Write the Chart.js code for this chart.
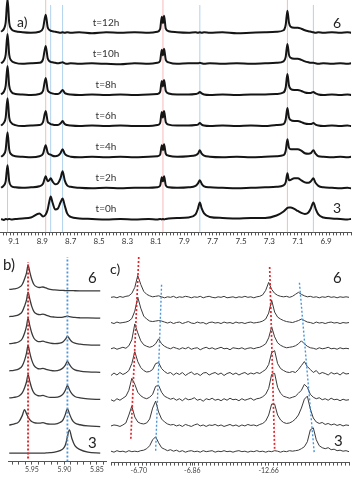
<!DOCTYPE html>
<html>
<head>
<meta charset="utf-8">
<script src="https://cdn.jsdelivr.net/npm/chart.js@4.4.1/dist/chart.umd.min.js"></script>
<style>
  html, body { margin: 0; padding: 0; background: #fff; }
  #fig { position: relative; width: 352px; height: 480px; overflow: hidden; font-family: Lato, 'Open Sans', sans-serif; color: #222; }
  canvas { position: absolute; }
  .lbl { position: absolute; line-height: 1; white-space: nowrap; }
  .tl { position: absolute; font-size: 10px; line-height: 1; transform: translate(-50%, -50%); color: #333; }
</style>
</head>
<body>
<div id="fig">
  <canvas id="chartA" width="352" height="247" style="left:0px;top:0px"></canvas>
  <canvas id="chartB" width="99" height="220" style="left:8px;top:255px"></canvas>
  <canvas id="chartC" width="240" height="221" style="left:110px;top:255px"></canvas>
  <div class="lbl" style="left:17px;top:15px;font-size:14px">a)</div>
  <div class="lbl" style="left:333px;top:16px;font-size:14px">6</div>
  <div class="lbl" style="left:333px;top:201px;font-size:14px">3</div>
  <div class="lbl" style="left:3px;top:257px;font-size:15px">b)</div>
  <div class="lbl" style="left:88px;top:270px;font-size:15px">6</div>
  <div class="lbl" style="left:88px;top:435px;font-size:15px">3</div>
  <div class="lbl" style="left:110px;top:262px;font-size:14px">c)</div>
  <div class="lbl" style="left:333px;top:270px;font-size:15px">6</div>
  <div class="lbl" style="left:334px;top:433px;font-size:15px">3</div>
</div>
<script>
// Tiempos (de abajo hacia arriba)
const times = ['t=0h', 't=2h', 't=4h', 't=6h', 't=8h', 't=10h', 't=12h'];

// Panel a) - desplazamiento químico (ppm) y espectros
const aPpm = [9.19, 9.17, 9.158, 9.145, 9.133, 9.12, 9.09, 9.04, 8.98, 8.92,
  8.895, 8.876, 8.862, 8.852, 8.841, 8.828, 8.81, 8.79, 8.772, 8.757,
  8.742, 8.725, 8.70, 8.64, 8.55, 8.45, 8.35, 8.25, 8.15, 8.09,
  8.07, 8.058, 8.05, 8.042, 8.03, 8.01, 7.95, 7.87, 7.82, 7.803,
  7.79, 7.777, 7.76, 7.72, 7.63, 7.53, 7.43, 7.33, 7.25, 7.20,
  7.185, 7.173, 7.162, 7.15, 7.125, 7.10, 7.075, 7.05, 7.025, 7.008,
  6.99, 6.975, 6.955, 6.92, 6.86, 6.80, 6.75, 6.724];
const a0h = [0.5,-0.5,0.5,0,0.5, 0,0.5,1,2,6, 3,5,10,17,23, 17,10,11,17,21, 14,6,2.5,1,0.5, 0,0.5,0,0.5,0, 0.5,0,0.5,0,0.5, 1,1.5,2,5,11, 17,11,6,2.5,1.5, 1,1.5,1.5,4,8, 10,11.5,12,12,10.5, 8.5,6.5,5.5,7,11, 17,11,5,2,1, 0.5,0,0.5];
const a2h = [0.5,3,7,23,7, 2.5,1,0.5,1,2, 4.5,12,7,8,10, 7,4,5,10,17, 8,3,1.5,0.5,0, 0.5,0,0.5,0.5,1, 2.5,11,7,12,3, 1,0.5,1,2.5,5, 8,4.5,2,1,0.5, 0,0.5,1,1.5,3, 6,15,8,8.5,10, 10,8,6,5.5,7, 10,5.5,2.5,1,0.5, 0,0.5,0];
const a4h = [0.5,3,7.5,25,7.5, 3,1,0.5,0,1, 3.5,12,4.5,3,2.5, 1.5,1,1.5,4,8, 3.5,1.5,0.5,0,0.5, 0,0.5,0,0.5,1, 2.5,12,7,13,3.5, 1.5,0.5,1,2,3.5, 7,3.5,1.5,0.5,0, 0.5,0,0.5,1,2, 6.5,18,9.5,8,8, 8,6.5,4,3.5,4, 7,3.5,1,0.5,0, 0.5,0,0.5];
const a6h = [0.5,3.5,8.5,28,8.5, 3.5,1,0,0.5,1, 4,15,4.5,3,2, 1.5,1,1,2.5,5, 2,1,0.5,0,0.5, 0,0.5,0,0,1, 3,14,8.5,15,4, 1.5,0.5,0.5,1,1.5, 3,1.5,0.5,0,0.5, 0,0.5,0,1,2, 6.5,18,8.5,6,5, 5,4,2.5,2,2, 3,1.5,0.5,0,0.5, 0,0.5,0];
const a8h = [0.5,3.5,9,29,9, 3.5,1,0.5,0,1, 4,17,5,3,2, 1.5,1,1,2.5,5, 2,1,0.5,0,0.5, 0,0.5,0,0.5,1, 3,14,8.5,15,4, 1.5,0.5,0.5,1,1.5, 3,1.5,0.5,0,0.5, 0,0.5,0.5,1,2.5, 7.5,21,9.5,6,5, 5,4,2.5,2,2, 3,1.5,0.5,0,0.5, 0,0.5,0];
const a10h = [0.5,3.5,9,30,9, 3.5,1,0,0.5,1, 4.5,18,5.5,3,2, 1.5,1,0.5,1,1.5, 0.5,0,0.5,0,0.5, 0,-0.5,0.5,0,1, 3,14,8.5,15,4, 1.5,0,0.5,0.5,0.5, 1,0.5,0,0.5,0, 0.5,0,0.5,1,2.5, 7,20,9,6,5, 5,4,2.5,1.5,1, 1,0.5,0,0.5,0, 0.5,0,0.5];
const a12h = [1,4,10,34,10, 4,1.5,0.5,0,1, 4.5,18,5.5,3,2, 1.5,1,0.5,0,0.5, 0,0.5,0,0.5,-0.5, 0.5,0,0.5,0,1, 3.5,16,9.5,17,4, 1.5,0.5,0,0.5,0, 0.5,0,0.5,0,0.5, -0.5,0,0.5,1,2.5, 8,22,10,6,5, 5,4,2.5,1.5,1, 0.5,0,0.5,0,0.5, 0,0.5,0];
const aRedLines = [9.145, 8.876, 8.05, 7.173];
const aBlueLines = [8.841, 8.757, 7.79, 6.99];

// Panel b) - región 5.98-5.84 ppm
const bPpm = [5.985, 5.978, 5.970, 5.965, 5.9615, 5.9585, 5.956, 5.9535, 5.9505, 5.947,
  5.942, 5.938, 5.933, 5.9285, 5.922, 5.915, 5.907, 5.902, 5.8985, 5.8955,
  5.8925, 5.8885, 5.884, 5.876, 5.864, 5.845];
const b0h = [0.5,0.5,0.5,0.5,0.5, 0.5,0.5,0.5,0.5,0.5, 0.5,0.5,0.5,0.7,1, 1.5,3,5,9,17, 24,15,8,4,1.5, 0.5];
const b2h = [1.5,2.5,5,11,17, 13,9.5,7,5,4, 3.5,3.5,4,3,2.5, 2.5,4,7,12.5,18, 13,7,3.5,1.8,0.6, 0];
const b4h = [1.5,2,3.5,6.5,11.5, 17.5,25,18.5,11.5,6.5, 4,3.5,4,3,2, 2,3,5.5,9.5,14, 10,5.5,3,1.5,0.5, 0];
const b6h = [1.5,2,3.5,6.5,12, 19,27,20,12.5,7, 4,3.5,4,3,2, 1.5,2.5,4.5,7.5,11, 8,4.5,2.5,1.2,0.4, 0];
const b8h = [1.5,2,3.5,6.5,12, 19,27,20,12.5,7, 4,3.5,4,3,2, 1.5,2,3.5,6,9, 6.5,3.5,2,1,0.3, 0];
const b10h = [1.5,2,3.5,6.5,12, 18,26,19.5,12,6.5, 4,3.5,4,3,1.5, 1,0.8,1,1.5,2, 1.5,1,0.6,0.3,0.1, 0];
const b12h = [1.5,2,3.5,6.5,12, 18,26,19.5,12,6.5, 4,3.5,4,3,1.5, 1,0.6,0.5,0.4,0.4, 0.3,0.3,0.2,0.1,0, 0];
const bRedGuide = 5.956;
const bBlueGuide = 5.8955;

// Panel c) - eje partido (posición relativa) con etiquetas en ppm
const cPos = [0,3,6,9,12,15,18,21,24,27, 30,33,36,39,42,45,48,51,54,57,
  60,63,66,69,72,75,78,81,84,87, 90,93,96,99,102,105,108,111,114,117,
  120,123,126,129,132,135,138,141,144,147, 150,153,156,159,162,165,168,171,174,177,
  180,183,186,189,192,195,198,201,204,207, 210,213,216,219,222,225,228,231,234,237, 240];
const cTickPos = [28, 82, 159];
const cTickLabels = ['-6.70', '-6.86', '-12.66'];
const c0h = [0.5,-0.5,1,0,0.5,-0.5,1,0,0.5,0, 1,1.5,3,6,12,15,9,4,2.5,1, 2,0.5,1.5,0,1,-0.5,0.5,1,0,0.5, -0.5,1,0,0.5,1,-0.5,0.5,0,1,0, 0.5,-0.5,0.5,1,0,0.5,-0.5,0.5,0,1, 0,0.5,-0.5,0.5,0,1,0.5,-0.5,0.5,0, 1,0.5,1,1.5,3,5,10,22,24,12, 6,4,3,4,2,2.5,1,1.5,0.5,1, 0];
const c2h = [0,1,0.5,-0.5,1,3,11,20,9,4, 2.5,2,3,7,18,25,14,7,4,2, 1,1.5,0,1,-0.5,1.5,0.5,-0.5,1,2, 0,1,-0.5,1,0.5,1.5,0,1,-0.5,0.5, 1.5,0,1,-0.5,1,0,1.5,0.5,1,0, 1.5,2.5,5,11,22,22,11,6,3.5,2.5, 3,4.5,7,11,18,27,30,17,8,4, 2.5,3.5,1.5,2.5,1,2,0.5,1.5,0,1, 0.5];
const c4h = [0.5,-1,1.5,0,2,4,10,22,16,8, 4.5,2.5,1.5,3,6,14,15,8,4,2.5, 1,2,0,1.5,-0.5,2,0.5,1,2.5,0, 1,-1,1.5,0.5,2,0,1,-0.5,1.5,0, 2,0.5,1,-0.5,1.5,0,1,2,0,1.5, 2,3.5,6,12,26,27,13,7,4,3, 2,3,4,7,10,16,13,6,3,1.5, 2.5,0.5,1.5,0,2,0.5,1,-0.5,1,0, 0.5];
const c6h = [-1,1.5,-0.5,2,0,1.5,4,11,23,13, 7,4,2.5,3,5,11,12,6,3,1, 2,-0.5,1.5,0,2,-1,1,2.5,0,1, -1,1.5,2,-0.5,1,2,0,1.5,-1,1, 2,0,1.5,-0.5,1,2,0,1.5,0.5,2, 1,3,5,10,22,24,11,6,4,2.5, 2,3,2,5,9,13,8,5,2,4, 0.5,2,1,-0.5,2,0.5,1.5,-0.5,2,0.5, 1];
const c8h = [0,1,-0.5,0.5,1.5,0.5,3,9,25,16, 8,4,2.5,1.5,2.5,5,10,5,2.5,1, 0,1.5,0.5,-0.5,1,0,1.5,-0.5,0.5,1, -1,0.5,1.5,0,1,-0.5,0.5,1.5,0,0.5, -1,1,0.5,0,1,-0.5,0.5,1,0,1, 1.5,3,5,11,22,12,6,3.5,2,1, 1.5,2,3,5,8,5,2.5,1,0.5,-0.5, 1,0,0.5,1.5,0,0.5,-0.5,1,0,0.5, 0];
const c10h = [0.5,-0.5,1,0,0.5,1,2,4.5,12,26, 15,7,4,2,1.5,2,2.5,2,1,0, 1,-0.5,0.5,1,-0.5,0.5,1.5,0,-0.5,1, 0,0.5,-1,0.5,1,0,0.5,-0.5,1,0, 0.5,-0.5,1,0,0.5,-0.5,0.5,1,0,0.5, 1,2,4,10,23,11,6,4,2.5,1.5, 1,0.5,1.5,2.5,4,2.5,1,0.5,-0.5,1, 0,0.5,-0.5,0.5,1,0,0.5,-0.5,0.5,0, 0.5];
const c12h = [0,0.5,-0.5,0.8,0,1,1.5,4,10,22, 13,6,3,1.5,0.5,1,1.5,0.5,-0.5,0.5, 0,1,-0.5,0.5,0,1,0.5,-0.5,0.5,0, 1,-0.5,0.5,1,0,-0.5,0.5,0,1,-0.5, 0,0.5,-0.5,0.5,0,1,0,0.5,-0.5,0.5, 1,2.5,7,15,8,4,2,1,0.5,1, 0,1,3,5,3,1.5,0.5,1,0,0.5, -0.5,0.5,0,1,0,0.5,-0.5,0.5,0,0.5, 0];
// Guías punteadas de c) [posición, altura]
const cRedGuideL = [[28, 207], [20, 24]];
const cBlueGuideL = [[51, 179], [45, 11]];
const cRedGuideR = [[160, 197], [165, 14]];
const cBlueGuideR = [[190, 181], [205, 9]];

Chart.defaults.font.family = "Lato, 'Open Sans', sans-serif";
Chart.defaults.color = '#333';

const baseOptions = {
    responsive: false,
    animation: false,
    devicePixelRatio: 1,
    events: [],
    layout: { padding: 0 },
    plugins: { legend: { display: false }, tooltip: { enabled: false } }
};

// Espectros apilados: cada traza se desplaza hacia arriba
function stackedSets(xs, traces, base, step, color, width, smooth) {
    return traces.map((ys, i) => ({
        data: xs.map((x, j) => ({ x: x, y: ys[j] + base + i * step })),
        borderColor: color,
        borderWidth: width,
        pointRadius: 0,
        tension: smooth ? 0.3 : 0,
        cubicInterpolationMode: smooth ? 'monotone' : 'default',
        order: 1
    }));
}

function guideSet(points, color, width, dash, order) {
    return {
        data: points.map(p => ({ x: p[0], y: p[1] })),
        borderColor: color,
        borderWidth: width,
        borderDash: dash,
        pointRadius: 0,
        order: order
    };
}

function xAxis(extra) {
    return Object.assign({
        type: 'linear',
        border: { color: '#555', width: 1 },
        grid: { drawOnChartArea: false, tickLength: 3, color: '#555' }
    }, extra);
}

// ----- Panel a)
const aBase = 13, aStep = 31.2, aTop = 233;
const aSets = stackedSets(aPpm, [a0h, a2h, a4h, a6h, a8h, a10h, a12h], aBase, aStep, '#151515', 2, true);
aRedLines.forEach(x => aSets.push(guideSet([[x, 0], [x, aTop]], 'rgba(240,165,165,0.75)', 1, [], 2)));
aBlueLines.forEach(x => aSets.push(guideSet([[x, 0], [x, aTop - 5]], 'rgba(170,205,235,0.9)', 1, [], 2)));

const chartA = new Chart(document.getElementById('chartA'), {
    type: 'line',
    data: { datasets: aSets },
    options: Object.assign({}, baseOptions, {
        scales: {
            x: xAxis({
                reverse: true, min: 6.724, max: 9.198,
                ticks: {
                    stepSize: 0.025, autoSkip: false, maxRotation: 0, includeBounds: false,
                    padding: 1, font: { size: 8 }, color: '#333',
                    callback: v => (Math.round(v * 1000) % 200 === 100 ? v.toFixed(1) : '')
                }
            }),
            y: { display: false, min: 0, max: aTop }
        }
    })
});

// Etiquetas de tiempo
const fig = document.getElementById('fig');
times.forEach((t, i) => {
    const d = document.createElement('div');
    d.className = 'tl';
    d.textContent = t;
    d.style.left = '106px';
    d.style.top = (chartA.scales.y.getPixelForValue(aBase + i * aStep) - 11) + 'px';
    fig.appendChild(d);
});

// ----- Panel b)
const bBase = 8, bStep = 27.3, bTop = 208;
const bSets = stackedSets(bPpm, [b0h, b2h, b4h, b6h, b8h, b10h, b12h], bBase, bStep, '#3a3a3a', 1.3, true);
bSets.push(guideSet([[bRedGuide, 3], [bRedGuide, 201]], '#e3262c', 2, [2, 2], 0));
bSets.push(guideSet([[bBlueGuide, 0], [bBlueGuide, 206]], '#4a95da', 1.8, [2, 2], 0));

new Chart(document.getElementById('chartB'), {
    type: 'line',
    data: { datasets: bSets },
    options: Object.assign({}, baseOptions, {
        scales: {
            x: xAxis({
                reverse: true, min: 5.8346, max: 5.9869,
                ticks: {
                    stepSize: 0.01, autoSkip: false, maxRotation: 0, includeBounds: false,
                    padding: 1, font: { size: 7 }, color: '#444',
                    callback: v => (Math.round(v * 100) % 5 === 0 ? v.toFixed(2) : '')
                }
            }),
            y: { display: false, min: 0, max: bTop }
        }
    })
});

// ----- Panel c)
const cBase = 11, cStep = 25.9, cTop = 209;
const cSets = stackedSets(cPos, [c0h, c2h, c4h, c6h, c8h, c10h, c12h], cBase, cStep, '#3a3a3a', 1, false);
cSets.push(guideSet(cRedGuideL, '#e3262c', 1.7, [2, 2], 0));
cSets.push(guideSet(cBlueGuideL, '#4a95da', 1.4, [2, 2], 0));
cSets.push(guideSet(cRedGuideR, '#e3262c', 1.7, [2, 2], 0));
cSets.push(guideSet(cBlueGuideR, '#4a95da', 1.4, [2, 2], 0));

new Chart(document.getElementById('chartC'), {
    type: 'line',
    data: { datasets: cSets },
    options: Object.assign({}, baseOptions, {
        scales: {
            x: xAxis({
                min: 0, max: 240,
                afterBuildTicks: axis => {
                    const list = [];
                    for (let v = 0; v <= 240; v += 4) {
                        if (!cTickPos.some(p => Math.abs(p - v) < 2)) list.push(v);
                    }
                    axis.ticks = list.concat(cTickPos).sort((a, b) => a - b).map(v => ({ value: v }));
                },
                ticks: {
                    autoSkip: false, maxRotation: 0, padding: 1, font: { size: 7 }, color: '#444',
                    callback: v => {
                        const k = cTickPos.indexOf(v);
                        return k >= 0 ? cTickLabels[k] : '';
                    }
                }
            }),
            y: { display: false, min: 0, max: cTop }
        }
    })
});
</script>
</body>
</html>
